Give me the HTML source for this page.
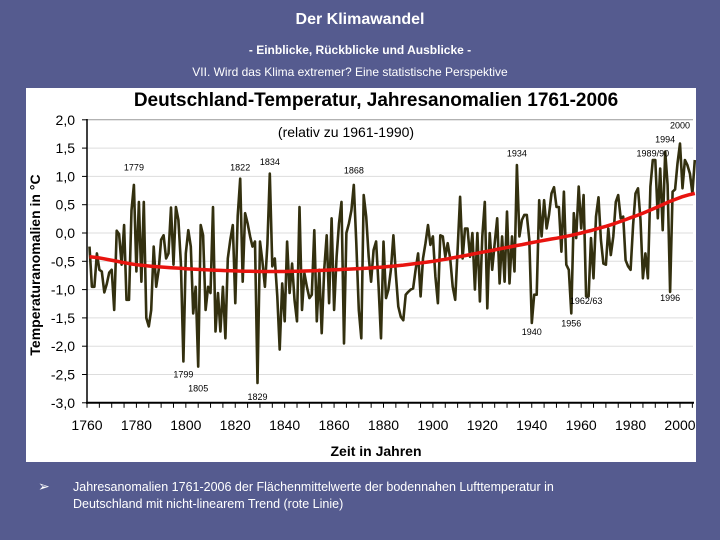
<!DOCTYPE html>
<html><head><meta charset="utf-8">
<style>
body{margin:0;width:720px;height:540px;overflow:hidden;background:#555b8f;font-family:"Liberation Sans",sans-serif;position:relative}
.t{position:absolute;color:#fff;white-space:nowrap}
</style></head><body>
<div class="t" style="left:0;width:720px;text-align:center;top:11px;font-size:16px;font-weight:bold">Der Klimawandel</div>
<div class="t" style="left:0;width:720px;text-align:center;top:43px;font-size:12px;font-weight:bold">- Einblicke, Rückblicke und Ausblicke -</div>
<div class="t" style="left:0;width:700px;text-align:center;top:65px;font-size:12px">VII. Wird das Klima extremer? Eine statistische Perspektive</div>
<svg id="chart" style="position:absolute;left:0;top:0" width="720" height="540">
<rect x="26" y="88" width="670" height="374" fill="#fff"/>
<text x="376" y="106" text-anchor="middle" font-size="19" font-weight="bold" font-family="Liberation Sans">Deutschland-Temperatur, Jahresanomalien 1761-2006</text>
<text x="346" y="137" text-anchor="middle" font-size="14" font-family="Liberation Sans">(relativ zu 1961-1990)</text>
<text x="376" y="456" text-anchor="middle" font-size="14" font-weight="bold" font-family="Liberation Sans">Zeit in Jahren</text>
<text transform="translate(40,265) rotate(-90)" text-anchor="middle" font-size="14" font-weight="bold" font-family="Liberation Sans">Temperaturanomalien in °C</text>
<g id="g"></g>
</svg>
<div class="t" style="left:38px;top:478px;font-size:14px">➢</div>
<div class="t" style="left:73px;top:479px;font-size:12.5px;line-height:17px">Jahresanomalien 1761-2006 der Flächenmittelwerte der bodennahen Lufttemperatur in<br>Deutschland mit nicht-linearem Trend (rote Linie)</div>
<script>
const startYear=1761;
const anomalies=[-0.24,-0.95,-0.95,-0.36,-0.65,-0.68,-1.05,-0.9,-0.7,-0.65,-1.36,0.04,-0.02,-0.56,0.14,-1.18,-1.18,0.4,0.85,-0.68,0.55,-0.86,0.55,-1.5,-1.65,-1.36,-0.24,-0.95,-0.65,-0.12,-0.04,-0.45,-0.36,0.45,-0.56,0.46,0.23,-0.54,-2.27,-0.36,0.05,-0.24,-1.42,-0.95,-2.36,0.14,-0.04,-1.36,-0.95,-1.06,0.46,-1.74,-1.06,-1.74,-0.95,-1.86,-0.45,-0.12,0.14,-1.24,0.3,0.96,-0.86,0.35,0.17,-0.06,-0.24,-0.15,-2.65,-0.15,-0.5,-0.95,-0.2,1.05,-0.59,-0.45,-1.12,-2.06,-0.89,-1.56,-0.15,-1.06,-0.54,-1.18,-1.56,0.46,-1.36,-0.71,-0.95,-1.15,-1.09,0.05,-1.56,-0.65,-1.77,-0.65,-0.04,-1.24,0.26,-1.36,-0.42,0.17,0.55,-1.95,0,0.17,0.4,0.85,-0.18,-1.36,-1.86,0.67,0.29,-0.42,-0.86,-0.3,-0.15,-0.95,-1.86,-0.15,-1.15,-1.0,-0.65,-0.04,-0.74,-1.3,-1.48,-1.54,-1.09,-1.04,-1.0,-0.98,-0.65,-0.36,-1.12,-0.45,-0.18,0.14,-0.21,-0.06,-0.77,-1.24,-0.04,-0.06,-0.42,-0.18,-0.45,-0.95,-1.18,-0.3,0.64,-0.45,0.08,0.08,-0.42,0,-1.0,0,-1.21,-0.06,0.55,-1.33,0,-0.65,-0.18,0.26,-0.89,-0.06,-0.86,0.38,-0.89,-0.06,-0.68,1.2,-0.06,0.23,0.32,0.32,-0.12,-1.59,-1.09,-1.09,0.58,-0.06,0.58,0.08,0.32,0.7,0.81,0.46,0.46,-0.33,0.73,-0.56,-0.65,-1.42,0.35,-0.09,0.82,0.08,0.67,-1.12,-1.12,-0.09,-0.8,0.29,0.63,-0.12,-0.54,-0.56,0.08,-0.39,-0.06,0.55,0.67,0.26,0.29,-0.48,-0.59,-0.65,0.14,0.7,0.79,0.23,-0.8,-0.36,-0.8,0.82,1.29,1.29,0.26,1.14,0.05,1.44,0.85,-1.04,0.73,0.77,1.23,1.58,0.79,1.29,1.2,1.05,0.7,1.29];
const trendYears=[1761,1780,1800,1820,1840,1860,1880,1900,1920,1940,1960,1980,2006];
const trendValues=[-0.42,-0.56,-0.63,-0.67,-0.68,-0.65,-0.6,-0.5,-0.34,-0.17,0.0,0.27,0.7];
const yTicks=[2.0,1.5,1.0,0.5,0.0,-0.5,-1.0,-1.5,-2.0,-2.5,-3.0];
const xTicks=[1760,1780,1800,1820,1840,1860,1880,1900,1920,1940,1960,1980,2000];
const annYears=[1779,1799,1805,1822,1829,1834,1868,1934,1940,1956,1962,1989,1994,1996,2000];
const annLabels=["1779","1799","1805","1822","1829","1834","1868","1934","1940","1956","1962/63","1989/90","1994","1996","2000"];
const annValues=[1.1,-2.55,-2.8,1.1,-2.95,1.2,1.05,1.35,-1.8,-1.65,-1.25,1.35,1.6,-1.2,1.85];
const X=y=>87+(y-1760)*(593/240), Y=v=>233-v*56.6;
const NS="http://www.w3.org/2000/svg", g=document.getElementById('g');
function mk(t,a){const e=document.createElementNS(NS,t);for(const k in a)e.setAttribute(k,a[k]);g.appendChild(e);return e;}
yTicks.forEach(v=>{
 const l=mk('line',{x1:87,x2:693,y1:Y(v),y2:Y(v),stroke:v==2?'#999':'#ddd','stroke-width':1});
 
 
 const t=mk('text',{x:75,y:Y(v)+5,'text-anchor':'end','font-size':14,'font-family':'Liberation Sans'});
 t.textContent=v.toFixed(1).replace('.',',');
 
 
 const tk=mk('line',{x1:82,x2:87,y1:Y(v),y2:Y(v),stroke:'#000'});
 
 
});
const ya=mk('line',{x1:87,x2:87,y1:119,y2:404,stroke:'#000','stroke-width':1.5});


const xa=mk('line',{x1:86,x2:694,y1:Y(-3),y2:Y(-3),stroke:'#000','stroke-width':2});


for(let yr=1760;yr<=2005;yr+=5){const tk=mk('line',{x1:X(yr),x2:X(yr),y1:Y(-3),y2:Y(-3)+5,stroke:'#000'});
 
 }
xTicks.forEach(yr=>{const t=mk('text',{x:X(yr),y:430,'text-anchor':'middle','font-size':14,'font-family':'Liberation Sans'});t.textContent=yr;
 
 });
const pts=anomalies.map((v,i)=>X(startYear+i).toFixed(1)+','+Y(v).toFixed(1)).join(' ');
const ln=mk('polyline',{points:pts,fill:'none',stroke:'#33300f','stroke-width':2.6,'stroke-linejoin':'round'});


let tp=[];
for(let i=0;i<trendYears.length-1;i++){
 const p0=trendValues[Math.max(0,i-1)],p1=trendValues[i],p2=trendValues[i+1],p3=trendValues[Math.min(trendYears.length-1,i+2)];
 for(let s=0;s<10;s++){const t=s/10;
  const v=0.5*(2*p1+(-p0+p2)*t+(2*p0-5*p1+4*p2-p3)*t*t+(-p0+3*p1-3*p2+p3)*t*t*t);
  tp.push(X(trendYears[i]+t*(trendYears[i+1]-trendYears[i])).toFixed(1)+','+Y(v).toFixed(1));}
}
tp.push(X(trendYears[trendYears.length-1])+','+Y(trendValues[trendValues.length-1]));
const tr=mk('polyline',{points:tp.join(' '),fill:'none',stroke:'#e8140f','stroke-width':3.5});


annYears.forEach((yr,i)=>{const t=mk('text',{x:X(yr),y:Y(annValues[i]),'text-anchor':'middle','font-size':9,'font-family':'Liberation Sans'});t.textContent=annLabels[i];
 
 });
</script>
</body></html>
